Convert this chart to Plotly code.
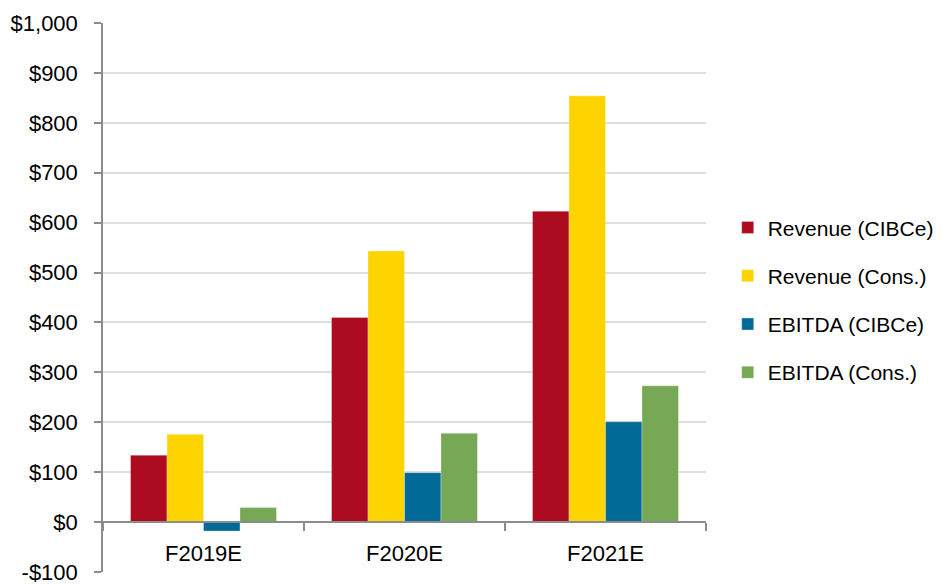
import plotly.graph_objects as go

categories = ["F2019E", "F2020E", "F2021E"]
revenue_cibc = [134, 410, 623]
revenue_cons = [176, 543, 854]
ebitda_cibc = [-18, 99, 201]
ebitda_cons = [29, 178, 273]
series_names = ["Revenue (CIBCe)", "Revenue (Cons.)", "EBITDA (CIBCe)", "EBITDA (Cons.)"]
colors = ["#AD0B1F", "#FDD300", "#016A97", "#77A855"]
y_tickvals = [-100, 0, 100, 200, 300, 400, 500, 600, 700, 800, 900, 1000]
y_ticktext = ["-$100", "$0", "$100", "$200", "$300", "$400", "$500", "$600", "$700", "$800", "$900", "$1,000"]

FONT = "Liberation Sans, Arial, sans-serif"

fig = go.Figure()
for i, (name, vals) in enumerate(zip(series_names, [revenue_cibc, revenue_cons, ebitda_cibc, ebitda_cons])):
    fig.add_trace(go.Bar(
        x=categories, y=vals, name=name, legendgroup=f"g{i}",
        marker=dict(color=colors[i], line=dict(color="rgba(255,255,255,0.6)", width=0.5)),
    ))

ymin, ymax = -100, 1000
zero_frac = (0 - ymin) / (ymax - ymin)

fig.update_layout(
    width=940, height=576,
    margin=dict(l=95, r=242, t=15, b=12, autoexpand=False),
    paper_bgcolor="white", plot_bgcolor="white",
    barmode="group", bargap=0.274, bargroupgap=0,
    font=dict(family=FONT, size=22, color="#000000"),
    showlegend=True,
    legend=dict(x=1.036, xanchor="left", y=0.495, yanchor="middle",
                font=dict(size=21, family=FONT), tracegroupgap=18,
                traceorder="grouped", bgcolor="rgba(0,0,0,0)", borderwidth=0),
    xaxis=dict(
        anchor="free", position=zero_frac, automargin=False,
        showline=True, linecolor="#8c8c8c", linewidth=1.5,
        ticks="outside", tickson="boundaries", ticklen=8, tickcolor="#8c8c8c", tickwidth=1.5,
        showgrid=False, tickfont=dict(size=22, family=FONT), zeroline=False,
        ticklabelstandoff=12,
    ),
    yaxis=dict(
        range=[ymin, ymax], tickvals=y_tickvals, ticktext=y_ticktext, automargin=False,
        showline=True, linecolor="#8c8c8c", linewidth=1.5,
        ticks="outside", ticklen=7, tickcolor="#8c8c8c", tickwidth=1.5,
        showgrid=True, gridcolor="#dedede", gridwidth=1.5,
        zeroline=False, tickfont=dict(size=22, family=FONT), ticklabelstandoff=12,
        ticklabeloverflow="allow",
    ),
)

fig.write_html("out.html")
